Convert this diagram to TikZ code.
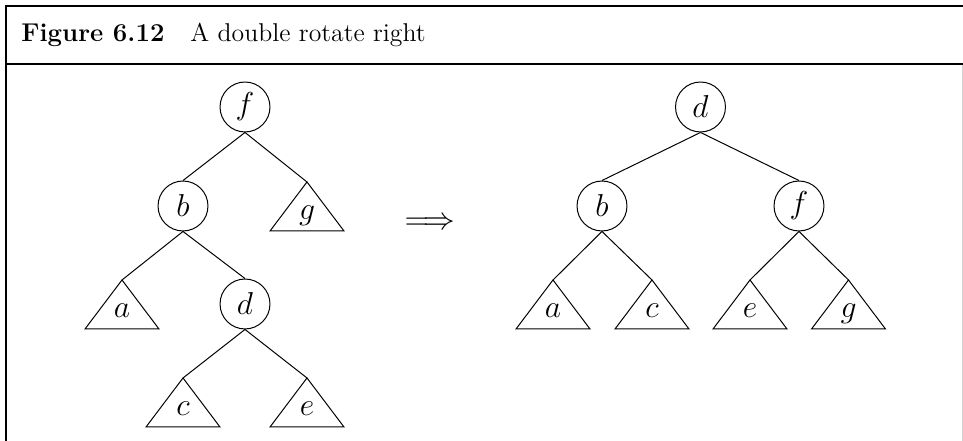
\documentclass[tikz,border=0pt]{standalone}
\usetikzlibrary{calc}
\begin{document}
\begin{tikzpicture}[x=0.4545pt,y=-0.4545pt,
  vert/.style={circle,draw,line width=0.45pt,minimum size=22.7pt,inner sep=0pt,font=\fontsize{14}{17}\selectfont},
  edge/.style={line width=0.45pt},
  tri/.style={line width=0.45pt,line join=miter},
  tlabel/.style={anchor=base,inner sep=0pt,font=\fontsize{14}{17}\selectfont},
  captext/.style={anchor=base west,inner sep=0pt,font=\fontsize{11.7}{14}\selectfont},
  frameline/.style={line width=1pt}]
\useasboundingbox (0,0) rectangle (963,441);
% frame
\draw[frameline] (6.2,6) -- (970,6);
\draw[frameline] (6.2,5) -- (6.2,450);
\draw[frameline] (6.2,64) -- (970,64);
\draw[gray!35,line width=0.6pt] (962.6,65) -- (962.6,450);
\node[captext] (fig) at (21,41.7) {\textbf{Figure 6.12}};
\node[captext] (cap) at (190,41.7) {A double rotate right};
% left tree
\node[vert] (lf) at (245,107) {$f$};
\node[vert] (lb) at (183,206) {$b$};
\node[vert] (ld) at (245,304) {$d$};
\coordinate (lg) at (307,182);
\coordinate (la) at (122,280);
\coordinate (lc) at (183,378);
\coordinate (le) at (307,378);
\foreach \t/\l in {lg/g,la/a,lc/c,le/e}{
  \draw[tri] (\t) -- ++(-37,49) -- ++(74,0) -- cycle;
  \node[tlabel] (lab\t) at ($(\t)+(0,37.5)$) {$\l$};
}
\draw[edge] (lf.south) -- (lb.north);
\draw[edge] (lf.south) -- (lg);
\draw[edge] (lb.south) -- (la);
\draw[edge] (lb.south) -- (ld.north);
\draw[edge] (ld.south) -- (lc);
\draw[edge] (ld.south) -- (le);
% arrow
\node (arr) at (430,224) {\Large$\Longrightarrow$};
% right tree
\node[vert] (rd) at (700.5,107) {$d$};
\node[vert] (rb) at (602,206) {$b$};
\node[vert] (rf) at (799,206) {$f$};
\coordinate (ra) at (553,280);
\coordinate (rc) at (652,280);
\coordinate (re) at (750,280);
\coordinate (rg) at (848.5,280);
\foreach \t/\l in {ra/a,rc/c,re/e,rg/g}{
  \draw[tri] (\t) -- ++(-37,49) -- ++(74,0) -- cycle;
  \node[tlabel] (lab\t) at ($(\t)+(0,37.5)$) {$\l$};
}
\draw[edge] (rd.south) -- (rb.north);
\draw[edge] (rd.south) -- (rf.north);
\draw[edge] (rb.south) -- (ra);
\draw[edge] (rb.south) -- (rc);
\draw[edge] (rf.south) -- (re);
\draw[edge] (rf.south) -- (rg);
\end{tikzpicture}
\end{document}
